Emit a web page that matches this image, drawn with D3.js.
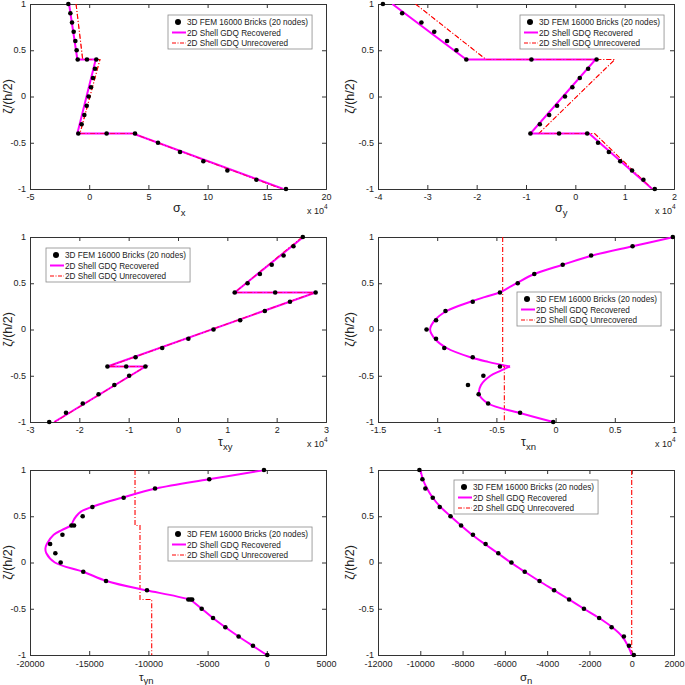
<!DOCTYPE html>
<html>
<head>
<meta charset="utf-8">
<script src="https://cdn.jsdelivr.net/npm/d3@7"></script>
<style>
html,body{margin:0;padding:0;background:#fff;}
svg{display:block;font-family:"Liberation Sans",Arial,sans-serif;}
</style>
</head>
<body>
<svg id="chart" width="685" height="685"></svg>
<script>
// ---------------- DATA ----------------
const legendLabels = ["3D FEM 16000 Bricks (20 nodes)", "2D Shell GDQ Recovered", "2D Shell GDQ Unrecovered"];
const yTicks = [-1, -0.5, 0, 0.5, 1];
const yLabel = "ζ/(h/2)";

// Laminate FEM thickness coordinates (with interface duplicates)
const femZetaLam = [1,0.9,0.8,0.7,0.6,0.5,0.4,0.4,0.4,0.3,0.2,0.1,0,-0.1,-0.2,-0.3,-0.4,-0.4,-0.4,-0.5,-0.6,-0.7,-0.8,-0.9,-1];
const femZeta21 = [1,0.9,0.8,0.7,0.6,0.5,0.4,0.3,0.2,0.1,0,-0.1,-0.2,-0.3,-0.4,-0.5,-0.6,-0.7,-0.8,-0.9,-1];
const femZetaYn = [1,0.9,0.8,0.7,0.6,0.5,0.4,0.4,0.3,0.2,0.1,0,-0.1,-0.2,-0.3,-0.4,-0.4,-0.4,-0.5,-0.6,-0.7,-0.8,-0.9,-1];
const lineZetaLam = [1,0.4,0.4,-0.4,-0.4,-1];

// Panel 1: sigma_x (x 10^4)
const xTicksSx = [-5,0,5,10,15,20];
const femSigmaX = [-1.76,-1.59,-1.45,-1.31,-1.17,-1.06,-0.97,-0.19,0.60,0.49,0.32,0.15,-0.05,-0.21,-0.41,-0.64,-0.92,1.47,3.87,5.81,7.67,9.64,11.67,14.12,16.62];
const recSigmaX = [-1.70,-1.00,0.55,-1.00,3.70,16.40];
const unrecSigmaX = [-1.11,-0.55,0.91,-0.78,3.70,16.30];

// Panel 2: sigma_y (x 10^4)
const xTicksSy = [-4,-3,-2,-1,0,1,2];
const femSigmaY = [-3.90,-3.51,-3.12,-2.86,-2.60,-2.41,-2.21,-0.89,0.43,0.26,0.09,-0.06,-0.21,-0.37,-0.53,-0.72,-0.91,-0.33,0.24,0.46,0.68,0.91,1.15,1.38,1.61];
const recSigmaY = [-3.71,-2.21,0.41,-0.91,0.28,1.56];
const unrecSigmaY = [-3.24,-1.81,0.80,-0.74,0.39,1.56];

// Panel 3: tau_xy (x 10^4)
const xTicksTxy = [-3,-2,-1,0,1,2,3];
const femTauXY = [2.53,2.34,2.14,1.90,1.66,1.41,1.15,1.97,2.79,2.27,1.76,1.26,0.72,0.21,-0.32,-0.86,-1.43,-1.05,-0.66,-0.99,-1.29,-1.61,-1.93,-2.27,-2.61];
const recTauXY = [2.54,1.15,2.79,-1.43,-0.66,-2.51];
const unrecTauXY = [2.52,1.15,2.78,-1.42,-0.66,-2.50];

// Panel 4: tau_xn (x 10^4)
const xTicksTxn = [-1.5,-1,-0.5,0,0.5,1];
const femTauXN = [0.99,0.65,0.30,0.06,-0.18,-0.32,-0.47,-0.70,-0.93,-1.01,-1.09,-1.01,-0.94,-0.70,-0.47,-0.61,-0.74,-0.65,-0.57,-0.30,-0.02];
const recZetaTxn = [1,0.9,0.8,0.7,0.6,0.5,0.45,0.4, 0.4,0.35,0.3,0.2,0.1,0,-0.1,-0.2,-0.3,-0.35,-0.4, -0.4,-0.45,-0.5,-0.6,-0.7,-0.8,-0.9,-1];
const recTauXN = [1.0,0.65,0.31,0.06,-0.18,-0.33,-0.40,-0.47, -0.47,-0.60,-0.72,-0.92,-1.02,-1.06,-1.02,-0.92,-0.72,-0.57,-0.385, -0.385,-0.47,-0.55,-0.63,-0.645,-0.57,-0.31,-0.02];
const unrecTauXN = [-0.447,-0.447,-0.447,-0.447,-0.433,-0.433];

// Panel 5: tau_yn
const xTicksTyn = [-20000,-15000,-10000,-5000,0,5000];
const femTauYN = [-240,-4860,-9440,-12090,-14730,-15550,-16280,-16500,-17260,-18300,-17860,-17410,-15500,-13580,-10120,-6630,-6450,-6300,-5500,-4540,-3500,-2380,-1170,40];
const recZetaTyn = [1,0.9,0.8,0.7,0.6,0.55,0.5,0.45,0.4, 0.4,0.35,0.3,0.2,0.15,0.1,0,-0.1,-0.2,-0.3,-0.35,-0.4, -0.4,-0.5,-0.6,-0.7,-0.8,-0.9,-1];
const recTauYN = [-150,-4900,-9350,-12250,-14800,-15700,-16100,-16350,-16500, -16500,-17320,-18000,-18580,-18700,-18620,-17900,-15500,-13550,-10200,-8200,-6450, -6450,-5500,-4550,-3500,-2380,-1200,0];
const unrecTauYN = [-11130,-11130,-10710,-10710,-9720,-9720];

// Panel 6: sigma_n
const xTicksSn = [-12000,-10000,-8000,-6000,-4000,-2000,0,2000];
const femSigmaN = [-10040,-9900,-9760,-9410,-9080,-8570,-8070,-7510,-6910,-6310,-5690,-5060,-4360,-3670,-2960,-2260,-1540,-950,-370,-130,100];
const recZetaSn = [1,0.95,0.9,0.8,0.7,0.6,0.5,0.4,0.3,0.2,0.1,0,-0.1,-0.2,-0.3,-0.4,-0.5,-0.6,-0.7,-0.8,-0.9,-0.95,-1];
const recSigmaN = [-9990,-9940,-9880,-9680,-9410,-9040,-8570,-8070,-7550,-6950,-6330,-5720,-5060,-4380,-3670,-2960,-2260,-1540,-920,-450,-180,-80,0];
const unrecZetaSn = [1,-1];
const unrecSigmaN = [0,0];

// ---------------- PANELS ----------------
const panels = [
  {x0:30, y0:4, xd:[-5,20], xt:xTicksSx, fz:femZetaLam, fv:femSigmaX, rz:lineZetaLam, rv:recSigmaX, smooth:false,
   uz:lineZetaLam, uv:unrecSigmaX, leg:[168,15], sym:"σ", sub:"x", lx:173, ly:212, fs:12.5, sdy:4, pad:5, exp:true, ylx:8},
  {x0:378, y0:4, xd:[-4,2], xt:xTicksSy, fz:femZetaLam, fv:femSigmaY, rz:lineZetaLam, rv:recSigmaY, smooth:false,
   uz:lineZetaLam, uv:unrecSigmaY, leg:[520,15], sym:"σ", sub:"y", lx:555, ly:212, fs:12.5, sdy:4, pad:5, exp:true, ylx:350},
  {x0:30, y0:237, xd:[-3,3], xt:xTicksTxy, fz:femZetaLam, fv:femTauXY, rz:lineZetaLam, rv:recTauXY, smooth:false,
   uz:lineZetaLam, uv:unrecTauXY, leg:[46,248], sym:"τ", sub:"xy", lx:218, ly:446, fs:12.5, sdy:4, pad:5, exp:true, ylx:8},
  {x0:378, y0:237, xd:[-1.5,1], xt:xTicksTxn, fz:femZeta21, fv:femTauXN, rz:recZetaTxn, rv:recTauXN, smooth:true,
   uz:lineZetaLam, uv:unrecTauXN, leg:[517,292], sym:"τ", sub:"xn", lx:521, ly:446, fs:12.5, sdy:4, pad:5, exp:true, ylx:350},
  {x0:30, y0:470, xd:[-20000,5000], xt:xTicksTyn, fz:femZetaYn, fv:femTauYN, rz:recZetaTyn, rv:recTauYN, smooth:true,
   uz:lineZetaLam, uv:unrecTauYN, leg:[168,527], sym:"τ", sub:"yn", lx:139, ly:681, fs:11.5, sdy:2.5, pad:6, exp:false, ylx:8},
  {x0:378, y0:470, xd:[-12000,2000], xt:xTicksSn, fz:femZeta21, fv:femSigmaN, rz:recZetaSn, rv:recSigmaN, smooth:true,
   uz:unrecZetaSn, uv:unrecSigmaN, leg:[454,480], sym:"σ", sub:"n", lx:520, ly:681, fs:11.5, sdy:2.5, pad:6, exp:false, ylx:350}
];

const PW = 296, PH = 185, TK = 4;
const MAG = "#ff00ff", RED = "#ff0000";
const svg = d3.select("#chart");
svg.append("rect").attr("width",685).attr("height",685).attr("fill","#fff");

function splitSegments(zs, vs){
  const segs = []; let cur = [];
  for (let i=0;i<zs.length;i++){
    if (i>0 && zs[i]===zs[i-1] && cur.length>1){ segs.push(cur); cur=[]; }
    cur.push([vs[i], zs[i]]);
  }
  if (cur.length) segs.push(cur);
  return segs;
}

panels.forEach(p => {
  const x = d3.scaleLinear().domain(p.xd).range([p.x0, p.x0+PW]);
  const y = d3.scaleLinear().domain([-1,1]).range([p.y0+PH, p.y0]);
  const g = svg.append("g");
  const clipId = "clip"+p.x0+"_"+p.y0;
  g.append("clipPath").attr("id",clipId).append("rect")
    .attr("x",p.x0).attr("y",p.y0).attr("width",PW).attr("height",PH);

  // axes with inward ticks
  const fmt = d => String(d);
  g.append("g").attr("transform",`translate(0,${p.y0+PH})`)
    .call(d3.axisBottom(x).tickValues(p.xt).tickSize(-TK).tickPadding(p.pad).tickFormat(fmt));
  g.append("g").attr("transform",`translate(0,${p.y0})`)
    .call(d3.axisTop(x).tickValues(p.xt).tickSize(-TK).tickFormat(""));
  const ly = g.append("g").attr("transform",`translate(${p.x0},0)`)
    .call(d3.axisLeft(y).tickValues(yTicks).tickSize(-TK).tickPadding(4).tickFormat(fmt));
  ly.selectAll(".tick text").attr("dy","0.25em");
  g.append("g").attr("transform",`translate(${p.x0+PW},0)`)
    .call(d3.axisRight(y).tickValues(yTicks).tickSize(-TK).tickFormat(""));
  g.selectAll(".domain").attr("stroke","#333").attr("stroke-width",1);
  g.selectAll(".tick line").attr("stroke","#333");
  g.selectAll(".tick text").attr("font-size",9).attr("fill","#222")
    .attr("font-family","'Liberation Sans',Arial,sans-serif");

  const plot = g.append("g").attr("clip-path",`url(#${clipId})`);

  // unrecovered (red dash-dot)
  const lin = d3.line().x(d=>x(d[0])).y(d=>y(d[1]));
  plot.append("path").datum(p.uz.map((z,i)=>[p.uv[i], z]))
    .attr("d", lin).attr("fill","none").attr("stroke",RED)
    .attr("stroke-width",1.1).attr("stroke-dasharray","5,2,1,2");

  // recovered (magenta)
  if (p.smooth){
    const cl = d3.line().x(d=>x(d[0])).y(d=>y(d[1])).curve(d3.curveCatmullRom.alpha(0.5));
    splitSegments(p.rz, p.rv).forEach(seg => {
      plot.append("path").datum(seg).attr("d", cl).attr("fill","none")
        .attr("stroke",MAG).attr("stroke-width",2);
    });
  } else {
    plot.append("path").datum(p.rz.map((z,i)=>[p.rv[i], z]))
      .attr("d", lin).attr("fill","none").attr("stroke",MAG).attr("stroke-width",2);
    // unrecovered drawn above on coincident parts for visibility
    plot.append("path").datum(p.uz.map((z,i)=>[p.uv[i], z]))
      .attr("d", lin).attr("fill","none").attr("stroke",RED).attr("stroke-opacity",0.6)
      .attr("stroke-width",1).attr("stroke-dasharray","5,2,1,2");
  }

  // FEM points
  g.append("g").selectAll("circle").data(p.fz.map((z,i)=>[p.fv[i], z]))
    .join("circle").attr("cx",d=>x(d[0])).attr("cy",d=>y(d[1])).attr("r",2.3).attr("fill","#000");

  // y label
  g.append("text").attr("transform",`translate(${p.ylx+4},${p.y0+PH/2}) rotate(-90)`)
    .attr("text-anchor","middle").attr("font-size",12.5).attr("fill","#222").text(yLabel);

  // x label
  const xl = g.append("text").attr("x",p.lx).attr("y",p.ly).attr("font-size",p.fs).attr("fill","#222");
  xl.append("tspan").text(p.sym);
  xl.append("tspan").attr("dy",p.sdy).attr("font-size",9.5).text(p.sub);

  if (p.exp){
    const e = g.append("text").attr("x",p.x0+PW-19).attr("y",p.y0+PH+25).attr("font-size",9).attr("fill","#222");
    e.append("tspan").text("x 10");
    e.append("tspan").attr("dy",-5).attr("font-size",6.5).text("4");
  }

  // legend
  const lg = g.append("g").attr("transform",`translate(${p.leg[0]},${p.leg[1]})`);
  const box = lg.append("rect").attr("x",0).attr("y",0).attr("height",34)
    .attr("fill","#fff").attr("stroke","#8a8a8a").attr("stroke-width",0.8);
  let maxW = 0;
  legendLabels.forEach((t,i) => {
    const yy = 7 + i*10.5;
    if (i===0) lg.append("circle").attr("cx",10).attr("cy",yy).attr("r",3).attr("fill","#000");
    else lg.append("line").attr("x1",4).attr("x2",18).attr("y1",yy).attr("y2",yy)
      .attr("stroke", i===1?MAG:RED).attr("stroke-width", i===1?2:1.2)
      .attr("stroke-dasharray", i===1?null:"4,1.5,1,1.5");
    const tx = lg.append("text").attr("x",19).attr("y",yy+3).attr("font-size",8.2).attr("fill","#222").text(t);
    maxW = Math.max(maxW, tx.node().getComputedTextLength());
  });
  box.attr("width", 19 + maxW + 4);
});
</script>
</body>
</html>
